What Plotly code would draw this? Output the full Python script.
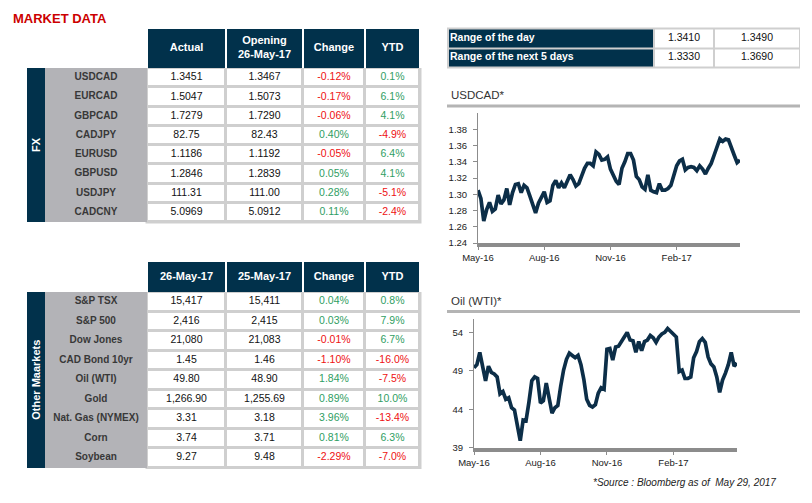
import plotly.graph_objects as go
import pandas as pd

# page body keeps its default 8px margin, so the figure is offset by 8px in the window
PAGE_OFF = 8
W, H = 812 - 2 * PAGE_OFF, 503 - 2 * PAGE_OFF
NAVY = "#01314B"
GRAY_COL = "#B3B3B7"
LINE_GRAY = "#CFCFCF"
RED = "#EE1111"
GREEN = "#2F9E63"
LINE_NAVY = "#0C2E48"
AXIS_GRAY = "#8C8C8C"
FONT = "Liberation Sans"

# ---------------- data ----------------
fx_pairs = ["USDCAD", "EURCAD", "GBPCAD", "CADJPY", "EURUSD", "GBPUSD", "USDJPY", "CADCNY"]
fx_actual = ["1.3451", "1.5047", "1.7279", "82.75", "1.1186", "1.2846", "111.31", "5.0969"]
fx_opening = ["1.3467", "1.5073", "1.7290", "82.43", "1.1192", "1.2839", "111.00", "5.0912"]
fx_change = [-0.12, -0.17, -0.06, 0.40, -0.05, 0.05, 0.28, 0.11]
fx_ytd = [0.1, 6.1, 4.1, -4.9, 6.4, 4.1, -5.1, -2.4]
fx_headers = ["Actual", "Opening<br>26-May-17", "Change", "YTD"]

mk_names = ["S&P TSX", "S&P 500", "Dow Jones", "CAD Bond 10yr", "Oil (WTI)", "Gold",
            "Nat. Gas (NYMEX)", "Corn", "Soybean"]
mk_may26 = ["15,417", "2,416", "21,080", "1.45", "49.80", "1,266.90", "3.31", "3.74", "9.27"]
mk_may25 = ["15,411", "2,415", "21,083", "1.46", "48.90", "1,255.69", "3.18", "3.71", "9.48"]
mk_change = [0.04, 0.03, -0.01, -1.10, 1.84, 0.89, 3.96, 0.81, -2.29]
mk_ytd = [0.8, 7.9, 6.7, -16.0, -7.5, 10.0, -13.4, 6.3, -7.0]
mk_headers = ["26-May-17", "25-May-17", "Change", "YTD"]

range_labels = ["Range of the day", "Range of the next 5 days"]
range_low = ["1.3410", "1.3330"]
range_high = ["1.3490", "1.3690"]

series_start = "2016-05-27"
series_step = "4D"
usdcad = [1.305, 1.295, 1.267, 1.281, 1.290, 1.279, 1.282, 1.299, 1.288, 1.293,
          1.307, 1.287, 1.302, 1.312, 1.313, 1.302, 1.311, 1.308, 1.298, 1.287,
          1.277, 1.289, 1.296, 1.303, 1.290, 1.292, 1.311, 1.317, 1.308, 1.314,
          1.308, 1.315, 1.324, 1.318, 1.310, 1.313, 1.324, 1.332, 1.338, 1.338,
          1.335, 1.352, 1.349, 1.342, 1.343, 1.346, 1.331, 1.324, 1.316, 1.312,
          1.332, 1.340, 1.350, 1.350, 1.342, 1.322, 1.318, 1.309, 1.306, 1.324,
          1.305, 1.303, 1.302, 1.313, 1.305, 1.305, 1.307, 1.311, 1.322, 1.335,
          1.341, 1.343, 1.330, 1.333, 1.334, 1.333, 1.329, 1.335, 1.331, 1.325,
          1.332, 1.338, 1.348, 1.357, 1.368, 1.365, 1.368, 1.367, 1.356, 1.348,
          1.339, 1.342]
oil_wti = [49.4, 49.8, 51.4, 49.4, 47.7, 49.6, 48.8, 48.6, 48.2, 46.0,
           46.3, 45.3, 45.5, 44.2, 43.9, 41.9, 39.9, 42.6, 42.5, 44.9,
           47.7, 48.2, 48.0, 44.8, 45.1, 47.4, 45.2, 43.5, 44.2, 44.5,
           47.0, 49.1, 50.5, 51.3, 51.0, 50.7, 51.0, 49.8, 47.9, 45.3,
           44.5, 44.3, 44.6, 46.1, 46.8, 46.6, 51.8, 51.9, 50.4, 52.1,
           52.2, 52.9, 53.4, 54.0, 53.0, 52.9, 51.4, 52.8, 51.6, 52.8,
           53.0, 53.6, 53.3, 52.7, 53.4, 53.8, 54.0, 54.5, 54.1, 53.8,
           53.4, 48.9, 49.1, 48.0, 48.0, 48.2, 50.7, 51.5, 52.8, 53.2,
           52.7, 50.8, 49.9, 49.5, 48.2, 46.2, 47.8, 48.7, 49.8, 51.4,
           49.6, 50.0]
date_tick_vals = ["2016-05-27", "2016-08-27", "2016-11-27", "2017-02-27"]
date_tick_text = ["May-16", "Aug-16", "Nov-16", "Feb-17"]
usdcad_ticks = [1.24, 1.26, 1.28, 1.30, 1.32, 1.34, 1.36, 1.38]
oil_ticks = [39, 44, 49, 54]

# ---------------- styles ----------------
COL_WIDTHS = [102, 79, 77, 62, 55]      # label column + 4 data columns (px)
STRIP_W = 18
RANGE_WIDTHS = [206, 60, 87]


def px_x(p):
    return (p - PAGE_OFF) / W


def px_y(p):
    return 1 - (p - PAGE_OFF) / H


fig = go.Figure()
layout_axes = {}
shapes = []
annotations = []


def axis_pair(idx, box, origin):
    """Invisible axis pair where one unit equals one pixel; y grows downward."""
    bx0, bx1, by0, by1 = box
    ox, oy = origin
    layout_axes[f"xaxis{idx}"] = dict(domain=[px_x(bx0), px_x(bx1)], range=[bx0 - ox, bx1 - ox],
                                      autorange=False, automargin=False,
                                      visible=False, fixedrange=True, anchor=f"y{idx}")
    layout_axes[f"yaxis{idx}"] = dict(domain=[px_y(by1), px_y(by0)], range=[by1 - oy, by0 - oy],
                                      autorange=False, automargin=False,
                                      visible=False, fixedrange=True, anchor=f"x{idx}")


def bricks(idx, xedges, yedges, color, xgap=0, ygap=0):
    z = [[1] * (len(xedges) - 1) for _ in range(len(yedges) - 1)]
    fig.add_trace(go.Heatmap(x=xedges, y=yedges, z=z, colorscale=[[0, color], [1, color]],
                             showscale=False, xgap=xgap, ygap=ygap, hoverinfo="skip",
                             xaxis=f"x{idx}", yaxis=f"y{idx}"))


def texts(idx, xs, ys, labels, colors, sizes):
    fig.add_trace(go.Scatter(x=xs, y=ys, text=labels, mode="text", cliponaxis=False,
                             textposition="middle center",
                             textfont=dict(family=FONT, size=sizes, color=colors),
                             hoverinfo="skip", showlegend=False,
                             xaxis=f"x{idx}", yaxis=f"y{idx}"))


def sign_color(v):
    return RED if v < 0 else GREEN


def data_table(idx, top, headers, labels, c1, c2, chg, ytd, head_h, row_h, strip_text):
    n = len(labels)
    left = 45
    total = sum(COL_WIDTHS)
    body_h = n * row_h
    axis_pair(idx, (left - STRIP_W - 2, left + total + 4, top - 2, top + head_h + body_h + 4), (left, top))
    edges = [0]
    for w in COL_WIDTHS:
        edges.append(edges[-1] + w)
    body_y = [head_h + i * row_h for i in range(n + 1)]
    # grey grid behind the data cells
    shapes.append(dict(type="rect", xref=f"x{idx}", yref=f"y{idx}", layer="below",
                       x0=edges[1] - 1.5, x1=total + 1.5, y0=head_h, y1=head_h + body_h + 1.5,
                       fillcolor=LINE_GRAY, line=dict(width=0)))
    bricks(idx, edges[1:], [0, head_h], NAVY, xgap=2)                    # header
    bricks(idx, edges[1:], body_y, "white", xgap=3, ygap=3)              # data cells
    bricks(idx, edges[:2], [body_y[0], body_y[-1]], GRAY_COL)            # label column
    bricks(idx, [-STRIP_W, 0], [body_y[0], body_y[-1]], NAVY)            # side strip
    centers = [(edges[i] + edges[i + 1]) / 2 for i in range(len(COL_WIDTHS))]
    xs, ys, tx, cs, ss = [], [], [], [], []
    for j, h in enumerate(headers):
        xs.append(centers[j + 1]); ys.append(head_h / 2); tx.append(f"<b>{h}</b>")
        cs.append("white"); ss.append(11)
    for i in range(n):
        yc = head_h + (i + 0.5) * row_h
        row = [f"<b>{labels[i]}</b>", c1[i], c2[i], f"{chg[i]:.2f}%", f"{ytd[i]:.1f}%"]
        rc = ["#383838", "#111111", "#111111", sign_color(chg[i]), sign_color(ytd[i])]
        rs = [10, 10.5, 10.5, 10.5, 10.5]
        for j in range(5):
            xs.append(centers[j]); ys.append(yc); tx.append(row[j]); cs.append(rc[j]); ss.append(rs[j])
    texts(idx, xs, ys, tx, cs, ss)
    annotations.append(dict(text=f"<b>{strip_text}</b>", xref=f"x{idx}", yref=f"y{idx}",
                            x=-STRIP_W / 2, y=head_h + body_h / 2, textangle=-90,
                            showarrow=False, font=dict(family=FONT, size=11, color="white")))


data_table(3, 29, fx_headers, fx_pairs, fx_actual, fx_opening, fx_change, fx_ytd, 39, 19.25, "FX")
data_table(4, 262, mk_headers, mk_names, mk_may26, mk_may25, mk_change, mk_ytd, 30, 19.5, "Other Maarkets")

# ---- range table ----
r_left, r_top = 447, 27.5
r_edges = [1]
for w in RANGE_WIDTHS:
    r_edges.append(r_edges[-1] + w)
r_edges[-1] -= 1
r_rows = [1, 20.5, 40]
axis_pair(5, (r_left - 2, r_left + sum(RANGE_WIDTHS) + 2, r_top - 2, r_top + 44), (r_left, r_top))
shapes.append(dict(type="rect", xref="x5", yref="y5", layer="below", x0=0, x1=sum(RANGE_WIDTHS),
                   y0=0, y1=41, fillcolor=LINE_GRAY, line=dict(width=0)))
bricks(5, r_edges[:2], r_rows, NAVY, xgap=2, ygap=2)
bricks(5, r_edges[1:], r_rows, "white", xgap=2, ygap=2)
lab_x, lab_y, val_x, val_y, val_t = [], [], [], [], []
for i in range(len(range_labels)):
    yc = (r_rows[i] + r_rows[i + 1]) / 2
    lab_x.append(r_edges[0] + 2)
    lab_y.append(yc)
    val_x += [(r_edges[1] + r_edges[2]) / 2, (r_edges[2] + r_edges[3]) / 2]
    val_y += [yc, yc]
    val_t += [range_low[i], range_high[i]]
fig.add_trace(go.Scatter(x=lab_x, y=lab_y, text=[f"<b>{s}</b>" for s in range_labels], mode="text",
                         cliponaxis=False, textposition="middle right",
                         textfont=dict(family=FONT, size=10.5, color="white"),
                         hoverinfo="skip", showlegend=False, xaxis="x5", yaxis="y5"))
fig.add_trace(go.Scatter(x=val_x, y=val_y, text=val_t,
                         mode="text", cliponaxis=False, textposition="middle center",
                         textfont=dict(family=FONT, size=10.5, color="#111111"),
                         hoverinfo="skip", showlegend=False, xaxis="x5", yaxis="y5"))

# ---------------- line charts ----------------
dates = pd.date_range(series_start, periods=len(usdcad), freq=series_step)
fig.add_trace(go.Scatter(x=dates, y=usdcad, mode="lines",
                         line=dict(color=LINE_NAVY, width=3.7), xaxis="x", yaxis="y",
                         showlegend=False, hoverinfo="skip"))
dates2 = pd.date_range(series_start, periods=len(oil_wti), freq=series_step)
fig.add_trace(go.Scatter(x=dates2, y=oil_wti, mode="lines",
                         line=dict(color=LINE_NAVY, width=3.7), xaxis="x2", yaxis="y2",
                         showlegend=False, hoverinfo="skip"))

xcommon = dict(type="date", tickvals=date_tick_vals, ticktext=date_tick_text,
               showline=True, linecolor=AXIS_GRAY, linewidth=4, ticks="outside",
               ticklen=3, tickcolor=AXIS_GRAY, tickfont=dict(family=FONT, size=9.5, color="#222222"),
               showgrid=False, zeroline=False, fixedrange=True, automargin=False)
ycommon = dict(showline=True, linecolor=AXIS_GRAY, linewidth=1, ticks="outside",
               ticklen=4, tickcolor=AXIS_GRAY, tickfont=dict(family=FONT, size=9.5, color="#222222"),
               showgrid=False, zeroline=False, fixedrange=True, ticklabelstandoff=4, automargin=False)

fig.update_layout(
    template="none",
    width=W, height=H, margin=dict(l=0, r=0, t=0, b=0, pad=0, autoexpand=False),
    paper_bgcolor="white", plot_bgcolor="rgba(0,0,0,0)", showlegend=False,
    font=dict(family=FONT),
    xaxis=dict(domain=[px_x(478), px_x(740)], range=[dates[0], dates[-1]], anchor="y", **xcommon),
    yaxis=dict(domain=[px_y(243), px_y(113)], range=[1.24, 1.40], tickvals=usdcad_ticks,
               tickformat=".2f", anchor="x", **ycommon),
    xaxis2=dict(domain=[px_x(474), px_x(737)], range=[dates2[0], dates2[-1]], anchor="y2", **xcommon),
    yaxis2=dict(domain=[px_y(447.7), px_y(319.3)], range=[39, 55.7], tickvals=oil_ticks,
                anchor="x2", **ycommon),
    **layout_axes,
)

shapes += [
    dict(type="line", xref="paper", yref="paper", x0=px_x(447), x1=px_x(800), y0=px_y(106), y1=px_y(106),
         line=dict(color="#B4B4B4", width=3)),
    dict(type="line", xref="paper", yref="paper", x0=px_x(447), x1=px_x(800), y0=px_y(311.5), y1=px_y(311.5),
         line=dict(color="#B4B4B4", width=3)),
]
fig.update_layout(shapes=shapes)

annotations += [
    dict(text="<b>MARKET DATA</b>", x=px_x(11), y=px_y(9), xanchor="left", yanchor="top",
         font=dict(family=FONT, size=13, color="#CC0000")),
    dict(text="USDCAD*", x=px_x(449), y=px_y(95), xanchor="left", yanchor="middle",
         font=dict(family=FONT, size=11.5, color="#333333")),
    dict(text="Oil (WTI)*", x=px_x(449), y=px_y(300.5), xanchor="left", yanchor="middle",
         font=dict(family=FONT, size=11.5, color="#333333")),
    dict(text="<i>*Source : Bloomberg as of  May 29, 2017</i>", x=px_x(778), y=px_y(482),
         xanchor="right", yanchor="middle", font=dict(family=FONT, size=10, color="#222222")),
]
for a in annotations:
    a.setdefault("xref", "paper")
    a.setdefault("yref", "paper")
    a["showarrow"] = False
fig.update_layout(annotations=annotations)

fig.write_html("out.html")
